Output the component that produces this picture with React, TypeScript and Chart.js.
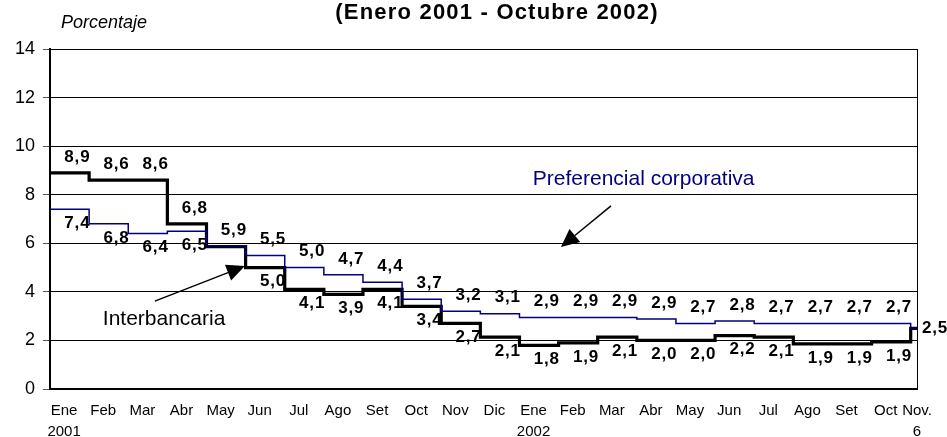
import React, { useEffect, useRef } from 'react';
import { Chart, registerables } from 'chart.js';

Chart.register(...registerables);

// ---- Data ----
const MONTHS_2001 = ['Ene', 'Feb', 'Mar', 'Abr', 'May', 'Jun', 'Jul', 'Ago', 'Set', 'Oct', 'Nov', 'Dic'];
const MONTHS_2002 = ['Ene', 'Feb', 'Mar', 'Abr', 'May', 'Jun', 'Jul', 'Ago', 'Set', 'Oct'];
const LAST_DATE_LABEL = ['Nov.', '6'];
const X_LABELS: (string | string[])[] = [
  ['Ene', '2001'],
  ...MONTHS_2001.slice(1),
  ['Ene', '2002'],
  ...MONTHS_2002.slice(1),
  LAST_DATE_LABEL,
];

// monthly values Ene 2001 .. Oct 2002, then Nov 6 2002
const INTERBANCARIA = [
  8.9, 8.6, 8.6, 6.8, 5.86, 5.0, 4.1, 3.9, 4.1, 3.4, 2.7, 2.14,
  1.8, 1.9, 2.14, 2.0, 2.0, 2.2, 2.14, 1.86, 1.86, 1.94,
  2.5,
];
const PREFERENCIAL = [
  7.4, 6.8, 6.4, 6.5, 5.9, 5.5, 5.0, 4.7, 4.4, 3.7, 3.2, 3.1,
  2.94, 2.94, 2.94, 2.88, 2.7, 2.8, 2.7, 2.7, 2.7, 2.7,
  2.5,
];
// where each value label sits: a = above, b = below, r = right, '' = none
const INTER_LABEL_SIDE = ['a', 'a', 'a', 'a', 'a', 'b', 'b', 'b', 'b', 'b', 'b', 'b', 'b', 'b', 'b', 'b', 'b', 'b', 'b', 'b', 'b', 'b', 'r'];
const PREF_LABEL_SIDE = ['b', 'b', 'b', 'b', '', 'a', 'a', 'a', 'a', 'a', 'a', 'a', 'a', 'a', 'a', 'a', 'a', 'a', 'a', 'a', 'a', 'a', ''];

const X_MAX = 22 + 5 / 31; // Nov 6, 2002 in months since Ene 2001
const Y_TICKS = { min: 0, max: 14, step: 2 };

const TITLE = '(Enero 2001 - Octubre 2002)';
const Y_UNIT = 'Porcentaje';

// annotations in data space (month, percent)
const ANNOTATIONS = [
  { text: 'Preferencial corporativa', color: '#000080', at: [12.34, 8.4], from: [14.34, 7.54], to: [13.06, 5.85] },
  { text: 'Interbancaria', color: '#000000', at: [1.35, 2.64], from: [2.68, 3.62], to: [4.98, 5.06] },
];

const FONT = '"Liberation Sans", Arial, Helvetica, sans-serif';
const NAVY = '#000080';

function toPoints(vals: number[]) {
  const pts = vals.map((v, i) => ({ x: i, y: v }));
  pts.push({ x: X_MAX, y: vals[vals.length - 1] });
  return pts;
}

const fmt = (v: number) => v.toFixed(1).replace('.', ',');

const extrasPlugin = {
  id: 'extras',
  beforeDatasetsDraw(chart: any) {
    const { ctx, chartArea } = chart;
    ctx.save();
    ctx.strokeStyle = '#000';
    ctx.lineWidth = 1;
    ctx.beginPath();
    ctx.moveTo(Math.round(chartArea.right) + 0.5, chartArea.top);
    ctx.lineTo(Math.round(chartArea.right) + 0.5, chartArea.bottom);
    ctx.stroke();
    ctx.restore();
  },
  afterDatasetsDraw(chart: any) {
    const { ctx, scales } = chart;
    const xs = scales.x;
    const ys = scales.y;
    ctx.save();
    // value labels
    ctx.font = `bold 17px ${FONT}`;
    try { (ctx as any).letterSpacing = '0.8px'; } catch (e) {}
    ctx.fillStyle = '#000';
    ctx.textBaseline = 'middle';
    const series: [number[], string[]][] = [
      [INTERBANCARIA, INTER_LABEL_SIDE],
      [PREFERENCIAL, PREF_LABEL_SIDE],
    ];
    series.forEach(([vals, sides]) => {
      vals.forEach((v, i) => {
        const side = sides[i];
        if (!side) return;
        const py = ys.getPixelForValue(v);
        const txt = fmt(v);
        if (side === 'r') {
          ctx.textAlign = 'left';
          ctx.fillText(txt, xs.getPixelForValue(X_MAX) + 5, py);
        } else {
          ctx.textAlign = 'center';
          const px = xs.getPixelForValue(i + 0.7);
          ctx.fillText(txt, px, side === 'a' ? py - 16 : py + 14);
        }
      });
    });

    // title
    ctx.textAlign = 'center';
    ctx.textBaseline = 'alphabetic';
    ctx.font = `bold 22px ${FONT}`;
    try { (ctx as any).letterSpacing = '1.2px'; } catch (e) {}
    ctx.fillText(TITLE, 497, 19);
    try { (ctx as any).letterSpacing = '0px'; } catch (e) {}

    // unit
    ctx.textAlign = 'left';
    ctx.font = `italic 18px ${FONT}`;
    ctx.fillText(Y_UNIT, 61, 28);

    // annotations with arrows
    ANNOTATIONS.forEach((a) => {
      ctx.font = `21px ${FONT}`;
      ctx.fillStyle = a.color;
      ctx.textAlign = 'left';
      ctx.fillText(a.text, xs.getPixelForValue(a.at[0]), ys.getPixelForValue(a.at[1]));
      const x1 = xs.getPixelForValue(a.from[0]);
      const y1 = ys.getPixelForValue(a.from[1]);
      const x2 = xs.getPixelForValue(a.to[0]);
      const y2 = ys.getPixelForValue(a.to[1]);
      const dx = x2 - x1;
      const dy = y2 - y1;
      const len = Math.hypot(dx, dy);
      const ux = dx / len;
      const uy = dy / len;
      const headLen = 18;
      const half = 8.5;
      const bx = x2 - ux * headLen;
      const by = y2 - uy * headLen;
      ctx.strokeStyle = '#000';
      ctx.fillStyle = '#000';
      ctx.lineWidth = 1.5;
      ctx.beginPath();
      ctx.moveTo(x1, y1);
      ctx.lineTo(bx, by);
      ctx.stroke();
      ctx.beginPath();
      ctx.moveTo(x2, y2);
      ctx.lineTo(bx - uy * half, by + ux * half);
      ctx.lineTo(bx + uy * half, by - ux * half);
      ctx.closePath();
      ctx.fill();
    });
    ctx.restore();
  },
};

export default function App() {
  const canvasRef = useRef<HTMLCanvasElement | null>(null);

  useEffect(() => {
    document.body.style.margin = '0';
    const canvas = canvasRef.current;
    if (!canvas) return;
    const tickValues = X_LABELS.map((_, i) => (i < X_LABELS.length - 1 ? i + 0.36 : X_MAX));

    const chart = new Chart(canvas, {
      type: 'line',
      data: {
        datasets: [
          {
            label: 'Preferencial corporativa',
            data: toPoints(PREFERENCIAL),
            borderColor: NAVY,
            borderWidth: 1.5,
            stepped: 'before',
            pointRadius: 0,
            fill: false,
            borderJoinStyle: 'miter',
          },
          {
            label: 'Interbancaria',
            data: toPoints(INTERBANCARIA),
            borderColor: '#000',
            borderWidth: 3.2,
            stepped: 'before',
            pointRadius: 0,
            fill: false,
            borderJoinStyle: 'miter',
          },
        ],
      },
      options: {
        animation: false,
        responsive: false,
        maintainAspectRatio: false,
        parsing: false,
        layout: { padding: { top: 49, right: 30, bottom: 0, left: 0 } },
        plugins: {
          legend: { display: false },
          tooltip: { enabled: false },
          title: { display: false },
        },
        scales: {
          x: {
            type: 'linear',
            min: 0,
            max: X_MAX,
            grid: { display: true, drawOnChartArea: false, drawTicks: false },
            border: { display: true, color: '#000', width: 2 },
            ticks: {
              autoSkip: false,
              maxRotation: 0,
              minRotation: 0,
              padding: 11,
              color: '#000',
              font: { family: FONT, size: 15, lineHeight: 1.4 },
              callback: (_v: any, idx: number) => X_LABELS[idx],
            },
            afterBuildTicks: (scale: any) => {
              scale.ticks = tickValues.map((v) => ({ value: v }));
            },
            afterFit: (scale: any) => {
              scale.height = 48;
            },
          },
          y: {
            type: 'linear',
            min: Y_TICKS.min,
            max: Y_TICKS.max,
            ticks: {
              stepSize: Y_TICKS.step,
              color: '#000',
              padding: 8,
              font: { family: FONT, size: 18 },
            },
            grid: { color: '#000', lineWidth: 1, tickLength: 7, tickColor: '#555' },
            border: { display: true, color: '#000', width: 2 },
            afterFit: (scale: any) => {
              scale.width = 50;
            },
          },
        },
      },
      plugins: [extrasPlugin],
    } as any);

    return () => chart.destroy();
  }, []);

  return (
    <div style={{ width: 947, height: 437 }}>
      <canvas ref={canvasRef} width={947} height={437} style={{ display: 'block' }} />
    </div>
  );
}
